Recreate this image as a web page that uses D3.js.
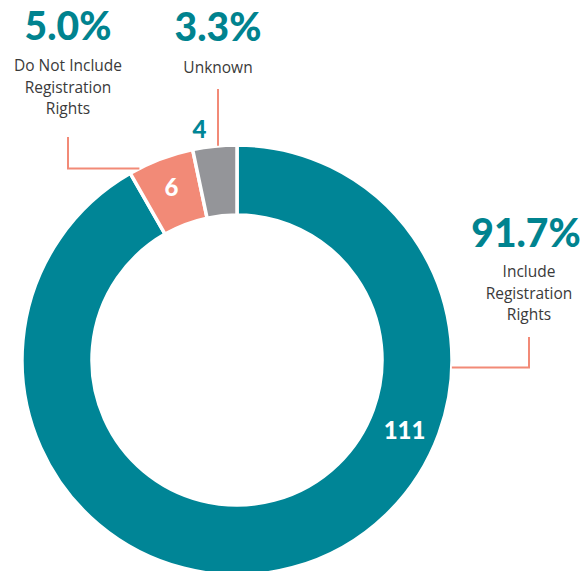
<!DOCTYPE html>
<html>
<head>
<meta charset="utf-8">
<script src="https://cdn.jsdelivr.net/npm/d3@7"></script>
<style>
  body { margin: 0; background: #fff; }
  svg { display: block; }
</style>
</head>
<body>
<script>
var categories = ["Include Registration Rights", "Do Not Include Registration Rights", "Unknown"];
var counts = [111, 6, 4];
var percents = ["91.7%", "5.0%", "3.3%"];
var labelLines = [["Include", "Registration", "Rights"], ["Do Not Include", "Registration", "Rights"], ["Unknown"]];
var colors = ["#008596", "#f28a77", "#949599"];

var width = 583, height = 571;
var cx = 237, cy = 360, outerR = 215, innerR = 145;

var svg = d3.select("body").append("svg")
    .attr("width", width)
    .attr("height", height);

var g = svg.append("g").attr("transform", "translate(" + cx + "," + cy + ")");

var data = categories.map(function(c, i) {
  return {name: c, value: counts[i], pct: percents[i], lines: labelLines[i], color: colors[i]};
});

var pie = d3.pie().sort(null).value(function(d) { return d.value; });
var arcs = pie(data);

var arc = d3.arc().innerRadius(innerR).outerRadius(outerR);

g.selectAll(".slice")
  .data(arcs)
  .enter().append("path")
    .attr("class", "slice")
    .attr("d", arc)
    .style("fill", function(d) { return d.data.color; })
    .style("stroke", "#fff")
    .style("stroke-width", 3.5);

// point on a circle of radius r at angle a (0 = top, clockwise)
function pt(r, a) {
  return [cx + r * Math.sin(a), cy - r * Math.cos(a)];
}

// count labels
var deg = Math.PI / 180;
var countPos = [
  {p: pt(182, 113 * deg), fill: "#fff"},
  {p: pt(184, (arcs[1].startAngle + arcs[1].endAngle) / 2), fill: "#fff"},
  {p: pt(233, -9.3 * deg), fill: "#008596"}
];
svg.selectAll(".count")
  .data(arcs)
  .enter().append("text")
    .attr("class", "count")
    .attr("x", function(d, i) { return countPos[i].p[0]; })
    .attr("y", function(d, i) { return countPos[i].p[1] + 8; })
    .attr("text-anchor", "middle")
    .style("font-family", "Lato, 'Open Sans', sans-serif")
    .style("font-weight", 900)
    .style("font-size", "24px")
    .style("fill", function(d, i) { return countPos[i].fill; })
    .text(function(d) { return d.data.value; });

// leader lines: label x, top y of the line, angle where it meets the ring
var leaders = [
  {x: 529, pctX: 526, y0: 337, a: 92 * deg, pctY: 247, lineY: 277},
  {x: 68, pctX: 68, y0: 137, a: -27 * deg, pctY: 40, lineY: 71},
  {x: 218, pctX: 218, y0: 89, a: null, pctY: 41, lineY: 73}
];

leaders.forEach(function(L, i) {
  var path;
  if (L.a === null) {
    var dx = L.x - cx;
    var yy = cy - Math.sqrt(outerR * outerR - dx * dx);
    path = "M" + L.x + "," + L.y0 + "V" + yy;
  } else {
    var e = pt(outerR, L.a);
    path = "M" + L.x + "," + L.y0 + "V" + e[1] + "H" + e[0];
  }
  svg.append("path")
    .attr("d", path)
    .style("fill", "none")
    .style("stroke", "#f28a77")
    .style("stroke-width", 2);

  svg.append("text")
    .attr("x", L.pctX)
    .attr("y", L.pctY)
    .attr("text-anchor", "middle")
    .style("font-family", "Lato, 'Open Sans', sans-serif")
    .style("font-weight", 900)
    .style("font-size", "39px")
    .style("fill", "#00838f")
    .text(data[i].pct);

  data[i].lines.forEach(function(t, j) {
    svg.append("text")
      .attr("x", L.x)
      .attr("y", L.lineY + j * 21.5)
      .attr("text-anchor", "middle")
      .style("font-family", "'Open Sans', sans-serif")
      .style("font-size", "15.5px")
      .style("fill", "#3a3a3a")
      .text(t);
  });
});
</script>
</body>
</html>
